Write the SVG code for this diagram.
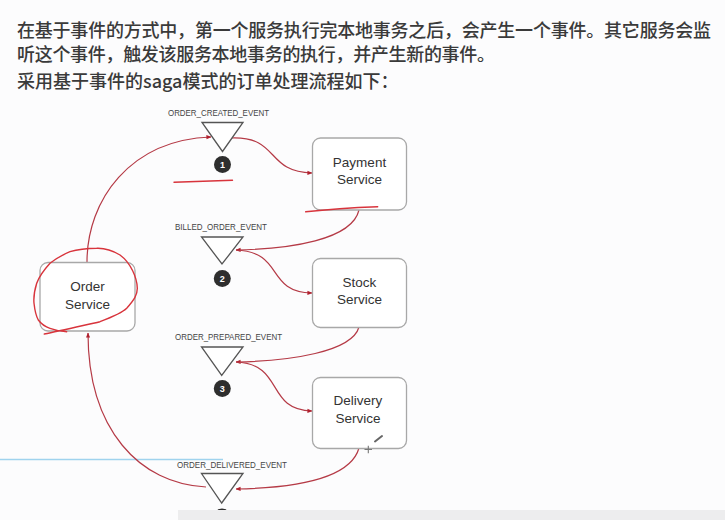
<svg xmlns="http://www.w3.org/2000/svg" width="725" height="520" viewBox="0 0 725 520">
<style>
.cn{font-family:"Noto Sans CJK SC","Noto Sans",sans-serif;font-size:18px;font-weight:500;fill:#3a3a3a}
.ev{font-family:"Liberation Sans",Arial,sans-serif;font-size:8.5px;fill:#444}
.box{fill:#fff;stroke:#a8a8a8;stroke-width:1.3}
.bl{font-family:"Liberation Sans",Arial,sans-serif;font-size:13.5px;fill:#333;text-anchor:middle}
.tri{fill:#fff;stroke:#555;stroke-width:1.3}
.num{fill:#2e2e2e}
.nt{font-family:"Liberation Sans",Arial,sans-serif;font-size:9px;font-weight:bold;fill:#fff;text-anchor:middle}
.con{fill:none;stroke:#b53a46;stroke-width:1.2}
.pen{fill:none;stroke:#d8343c;stroke-width:1.4;stroke-linecap:round;stroke-linejoin:round}
</style>
<defs>
<marker id="arr" viewBox="0 0 6 6" refX="5.5" refY="3" markerWidth="5" markerHeight="5" orient="auto" markerUnits="userSpaceOnUse">
<path d="M0,0.5 L6,3 L0,5.5 Z" fill="#b0202e"/>
</marker>
</defs>
<rect width="725" height="520" fill="#fcfcfd"/>
<g id="intro">
<text class="cn" x="17" y="37" textLength="694" lengthAdjust="spacing">在基于事件的方式中，第一个服务执行完本地事务之后，会产生一个事件。其它服务会监</text>
<text class="cn" x="17" y="61" textLength="478" lengthAdjust="spacing">听这个事件，触发该服务本地事务的执行，并产生新的事件。</text>
<text class="cn" x="17" y="88">采用基于事件的saga模式的订单处理流程如下：</text>
</g>
<line x1="0" y1="459.5" x2="223" y2="459.5" stroke="#9fd3ee" stroke-width="1.3"/>
<g id="connectors">
<path class="con" d="M87,262 C87,200 130,140 211,137" marker-end="url(#arr)"/>
<path class="con" d="M231,138 C280,136 265,172 312,173" marker-end="url(#arr)"/>
<path class="con" d="M359,210 C352,240 290,249 236,250" marker-end="url(#arr)"/>
<path class="con" d="M236,250 C285,252 265,292 312,293" marker-end="url(#arr)"/>
<path class="con" d="M359,327 C352,352 290,361 236,362" marker-end="url(#arr)"/>
<path class="con" d="M236,362 C285,364 265,410 312,411" marker-end="url(#arr)"/>
<path class="con" d="M359,448 C350,480 290,488 236,489" marker-end="url(#arr)"/>
<path class="con" d="M206,487 C140,484 88,430 88,333" marker-end="url(#arr)"/>
</g>
<g id="order-service">
<rect class="box" x="40" y="262.5" width="95" height="68.5" rx="8"/>
<text class="bl" x="87.5" y="291">Order</text>
<text class="bl" x="87.5" y="308.5">Service</text>
</g>
<g id="payment-service">
<rect class="box" x="312.5" y="138" width="94" height="72" rx="8"/>
<text class="bl" x="359.5" y="166.5">Payment</text>
<text class="bl" x="359.5" y="184">Service</text>
</g>
<g id="stock-service">
<rect class="box" x="312.5" y="258.5" width="94" height="69" rx="8"/>
<text class="bl" x="359.5" y="286.5">Stock</text>
<text class="bl" x="359.5" y="304">Service</text>
</g>
<g id="delivery-service">
<rect class="box" x="312.5" y="377.5" width="94" height="71" rx="8"/>
<text class="bl" x="358" y="405">Delivery</text>
<text class="bl" x="358" y="422.5">Service</text>
</g>
<g id="order-created-event">
<text class="ev" x="168" y="116" textLength="101" lengthAdjust="spacingAndGlyphs">ORDER_CREATED_EVENT</text>
<path class="tri" d="M202,122.5 L243,122.5 L222.5,151.5 Z"/>
<circle class="num" cx="222.5" cy="164.5" r="8.5"/>
<text class="nt" x="222.5" y="167.8">1</text>
</g>
<g id="billed-order-event">
<text class="ev" x="175" y="229.5" textLength="92" lengthAdjust="spacingAndGlyphs">BILLED_ORDER_EVENT</text>
<path class="tri" d="M201.5,237 L243,237 L222,264 Z"/>
<circle class="num" cx="222.3" cy="278.5" r="8.5"/>
<text class="nt" x="222.3" y="281.8">2</text>
</g>
<g id="order-prepared-event">
<text class="ev" x="175" y="340" textLength="107" lengthAdjust="spacingAndGlyphs">ORDER_PREPARED_EVENT</text>
<path class="tri" d="M201.5,347 L243,347 L221.7,375.5 Z"/>
<circle class="num" cx="222.3" cy="388.5" r="8.5"/>
<text class="nt" x="222.3" y="391.8">3</text>
</g>
<g id="order-delivered-event">
<text class="ev" x="177" y="467.5" textLength="110" lengthAdjust="spacingAndGlyphs">ORDER_DELIVERED_EVENT</text>
<path class="tri" d="M201.5,473.5 L243,473.5 L221.7,503 Z"/>
<circle class="num" cx="222" cy="517" r="8.5"/>
</g>
<g id="annotations">
<path class="pen" d="M174,182.3 C195,181.5 215,181 232.5,180.3"/>
<path class="pen" d="M305.7,211.8 C330,209 355,207.5 377.7,206.7"/>
<path class="pen" d="M44.3,334 C60,331 85,325 100,321.7 C115,316 124,311 126.7,308.3 C134,300 137.5,295 137.3,288 C137,278 131,263 120,255 C110,249 104,248 96.7,248.3 C85,248.5 76,250 70,251.7 C60,256 54,260 50,263.3 C43,271 39,277 36.7,283.3 C34,292 33.5,298 34,303.3 C35,312 36.5,317 38.3,320 C42,325 46,327 50,328.3 C56,330.5 62,331.5 66.7,331.7"/>
</g>
<g id="cursor">
<path d="M364.5,449.5 H372 M368.3,445.8 V453.2" stroke="#777" stroke-width="1.1" fill="none"/>
<path d="M375,441.5 L382,436" stroke="#666" stroke-width="2" stroke-linecap="round"/>
</g>
<rect x="178" y="510" width="547" height="10" fill="#ededee"/>
</svg>
